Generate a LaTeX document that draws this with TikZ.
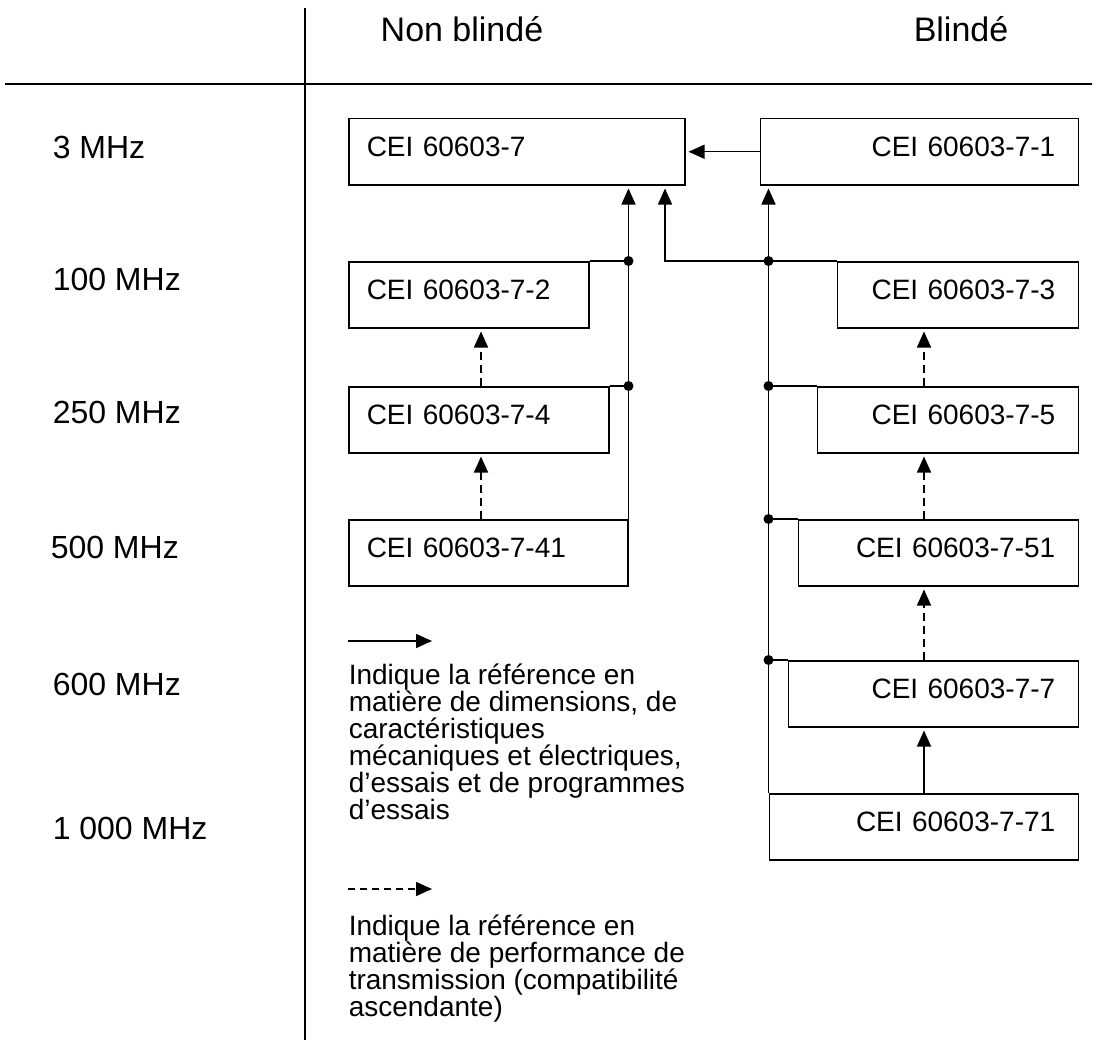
\documentclass[tikz,border=0pt]{standalone}
\usepackage{fontspec}
\setmainfont{Liberation Sans}
\usetikzlibrary{arrows.meta}
\lineskiplimit=-10pt
\begin{document}
\begin{tikzpicture}[x=1pt,y=-1pt,line width=1.5pt,
  cei/.style={draw,inner ysep=15pt,text height=23pt,text depth=13pt,
    font=\fontsize{28}{30}\selectfont},
  ceiL/.style={cei,anchor=north west,inner xsep=18pt,align=left,text width=#1},
  ceiR/.style={cei,anchor=north east,inner xsep=23pt,align=right,text width=#1},
  freq/.style={anchor=base west,inner sep=0pt,font=\fontsize{32}{34}\selectfont},
  head/.style={anchor=base,inner sep=0pt,font=\fontsize{34}{36}\selectfont},
  legtext/.style={anchor=north west,inner sep=0pt,align=left,
    font=\fontsize{28}{27}\selectfont},
  arr/.style={-{Triangle[length=16pt,width=14pt]},shorten >=3pt},
  darr/.style={arr,dash pattern=on 8pt off 5pt},
  dot/.style={circle,fill,inner sep=0pt,minimum size=10pt}]
\useasboundingbox (0,0) rectangle (1098,1046);
%\draw[step=50,gray,very thin] (0,0) grid (1098,1046);
\draw (305,8) -- (305,1040);
\draw[line width=1.9pt] (5,84) -- (1092,84);
\node[head] (h1) at (462,42) {Non blindé};
\node[head] (h2) at (961,42) {Blindé};
\node[freq] (f3) at (52,159) {3 MHz};
\node[freq] (f100) at (52,290) {100 MHz};
\node[freq] (f250) at (52,423) {250 MHz};
\node[freq] (f500) at (50,558) {500 MHz};
\node[freq] (f600) at (52,695) {600 MHz};
\node[freq] (f1000) at (52,839) {1 000 MHz};
% non blinde
\node[ceiL=300pt] (b7) at (348,118) {CEI 60603-7};
\node[ceiL=204pt] (b72) at (348,261) {CEI 60603-7-2};
\node[ceiL=224pt] (b74) at (348,386) {CEI 60603-7-4};
\node[ceiL=243pt] (b741) at (348,519) {CEI 60603-7-41};
% blinde
\node[ceiR=272pt] (b71) at (1079,118) {CEI 60603-7-1};
\node[ceiR=195pt] (b73) at (1079,261) {CEI 60603-7-3};
\node[ceiR=215pt] (b75) at (1079,386) {CEI 60603-7-5};
\node[ceiR=234pt] (b751) at (1079,519) {CEI 60603-7-51};
\node[ceiR=244pt] (b77) at (1079,660) {CEI 60603-7-7};
\node[ceiR=263pt] (b771) at (1079,793) {CEI 60603-7-71};
\coordinate (lx) at (481,0);
\coordinate (rx) at (924,0);
\coordinate (j3) at (665,261);
\node[dot] (dl1) at (b72.north east -| b741.north east) {};
\node[dot] (dl2) at (b74.north east -| b741.north east) {};
\node[dot] (dr1) at (b73.north -| b771.north west) {};
\node[dot] (dr2) at (b75.north -| b771.north west) {};
\node[dot] (dr3) at (b751.north -| b771.north west) {};
\node[dot] (dr4) at (b77.north -| b771.north west) {};
\draw[arr] (b71.west) -- (b7.east);
\draw[arr] (b741.north east) -- (b741.north east |- b7.south);
\draw[arr] (b73.north west) -- (j3) -- (j3 |- b7.south);
\draw[arr] (b771.north west) -- (b771.north west |- b71.south);
\draw (b72.north east) -- (dl1.center);
\draw (b74.north east) -- (dl2.center);
\draw (dr2.center) -- (b75.north west);
\draw (dr3.center) -- (b751.north west);
\draw (dr4.center) -- (b77.north west);
\draw[darr] (b74.north -| lx) -- (b72.south -| lx);
\draw[darr] (b741.north -| lx) -- (b74.south -| lx);
\draw[darr] (b75.north -| rx) -- (b73.south -| rx);
\draw[darr] (b751.north -| rx) -- (b75.south -| rx);
\draw[darr] (b77.north -| rx) -- (b751.south -| rx);
\draw[arr] (b771.north -| rx) -- (b77.south -| rx);
% legende
\coordinate (s1) at (348,641);
\coordinate (s2) at (432,641);
\coordinate (t1) at (348,889);
\coordinate (t2) at (432,889);
\draw[arr,shorten >=0pt] (s1) -- (s2);
\draw[darr,shorten >=0pt,dash pattern=on 7pt off 5pt] (t1) -- (t2);
\node[legtext] (leg1) at (348,663) {Indique la référence en\\matière de dimensions, de\\caractéristiques\\mécaniques et électriques,\\d’essais et de programmes\\d’essais};
\node[legtext] (leg2) at (348,914) {Indique la référence en\\matière de performance de\\transmission (compatibilité\\ascendante)};
\end{tikzpicture}
\end{document}
